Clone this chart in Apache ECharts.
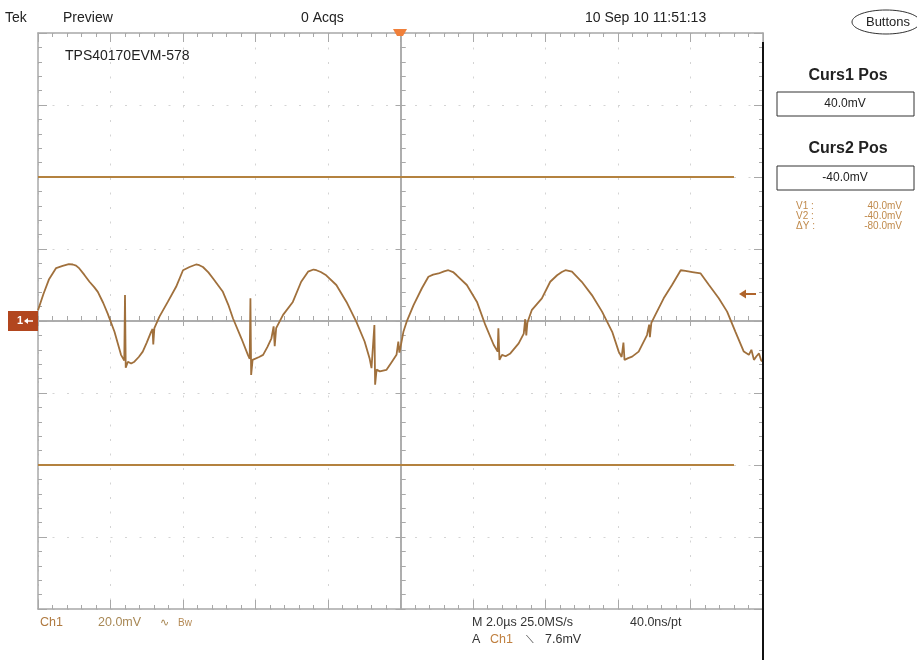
<!DOCTYPE html>
<html>
<head>
<meta charset="utf-8">
<script src="https://cdn.jsdelivr.net/npm/echarts@6/dist/echarts.min.js"></script>
<style>
html,body{margin:0;padding:0;background:#fff;}
#chart{width:917px;height:660px;}
</style>
</head>
<body>
<div id="chart"></div>
<script>
// time relative to trigger (µs), 2.0 µs/div
var timeUs = [-10.00,-9.85,-9.70,-9.50,-9.32,-9.15,-9.04,-8.95,-8.86,-8.72,-8.58,-8.45,-8.35,-8.20,-8.08,-7.89,-7.71,-7.62,-7.60,-7.58,-7.52,-7.43,-7.34,-7.22,-7.11,-7.00,-6.88,-6.84,-6.82,-6.79,-6.65,-6.42,-6.19,-6.00,-5.82,-5.64,-5.55,-5.45,-5.30,-5.17,-4.90,-4.75,-4.62,-4.39,-4.21,-4.16,-4.14,-4.12,-4.08,-4.03,-3.90,-3.79,-3.67,-3.56,-3.50,-3.47,-3.43,-3.24,-2.97,-2.74,-2.55,-2.40,-2.32,-2.20,-2.05,-1.77,-1.49,-1.22,-0.99,-0.85,-0.80,-0.72,-0.70,-0.66,-0.57,-0.48,-0.39,-0.25,-0.11,-0.06,-0.03,0.02,0.08,0.17,0.36,0.59,0.77,0.90,1.05,1.20,1.32,1.45,1.55,1.83,2.11,2.34,2.57,2.68,2.70,2.73,2.80,2.90,3.03,3.26,3.40,3.44,3.47,3.50,3.62,3.90,4.13,4.32,4.45,4.55,4.73,5.00,5.28,5.56,5.84,6.02,6.10,6.15,6.18,6.28,6.39,6.57,6.80,6.86,6.88,6.92,7.03,7.26,7.49,7.73,7.86,8.05,8.28,8.51,8.78,9.01,9.24,9.47,9.61,9.68,9.75,9.82,9.89,9.95,10.00];
// Ch1 voltage (mV), 20.0 mV/div
var ch1mV = [3.0,7.5,11.5,14.7,15.3,15.8,15.7,15.4,14.6,12.8,10.9,9.4,8.1,5.0,2.1,-3.0,-9.4,-11.0,7.2,-13.0,-11.3,-11.8,-11.3,-10.0,-8.5,-6.0,-3.0,-2.2,-6.5,-2.0,1.2,5.3,9.5,14.1,15.0,15.7,15.5,15.0,13.5,11.8,8.1,4.5,0.7,-4.8,-9.4,-10.5,6.3,-15.0,-10.8,-10.3,-10.0,-9.4,-7.2,-4.8,-1.5,-7.0,-2.0,1.7,5.3,10.9,13.7,14.3,14.1,13.6,12.7,10.0,5.3,-0.2,-5.7,-10.5,-13.1,-1.1,-17.7,-13.5,-14.0,-13.8,-13.6,-11.5,-9.4,-5.7,-8.8,-6.2,-3.0,-0.2,4.4,9.1,12.3,12.9,13.2,13.8,14.1,13.6,12.7,10.0,5.3,-1.1,-6.6,-8.5,-2.0,-10.8,-9.4,-9.8,-9.0,-6.2,-3.5,0.5,-4.0,-0.5,3.0,6.3,10.9,12.7,13.6,14.1,13.7,10.9,7.2,2.6,-3.0,-8.5,-10.0,-6.0,-10.8,-10.3,-9.9,-8.5,-3.9,-1.0,-4.5,-0.5,1.7,6.3,10.0,14.1,13.9,13.6,13.2,10.0,6.3,2.6,-3.0,-8.5,-9.4,-8.0,-10.8,-9.8,-9.0,-11.0,-11.3];
var cursorLevels = [40, -40];
var cursorEndUs = 9.2;
var xRange = [-10, 10], xDiv = 2;
var yRange = [-80, 80], yDiv = 20;

var gray = '#a8a8a8';
var traceColor = '#a0703c';
var cursorColor = '#b4823f';
var labelColor = '#c08a4c';

function axisBase(extra) {
  var a = {
    axisLabel: { show: false },
    splitLine: { show: false },
    axisLine: { show: true, lineStyle: { color: gray, width: 1.5 } },
    axisTick: { show: true, inside: true, length: 9, lineStyle: { color: gray, width: 1 } },
    minorTick: { show: true, splitNumber: 5, length: 4, lineStyle: { color: gray, width: 1 } }
  };
  for (var k in extra) a[k] = extra[k];
  return a;
}
var gridSplit = { show: true, lineStyle: { color: '#d4d4d4', width: 1, type: [2, 12.5] } };

var xAxes = [
  axisBase({ type: 'value', min: xRange[0], max: xRange[1], interval: xDiv, position: 'bottom', splitLine: gridSplit, axisLine: { show: true, onZero: false, lineStyle: { color: gray, width: 1.5 } } }),
  axisBase({ type: 'value', min: xRange[0], max: xRange[1], interval: xDiv, position: 'top', axisLine: { show: true, onZero: false, lineStyle: { color: gray, width: 1.5 } } }),
  axisBase({ type: 'value', min: xRange[0], max: xRange[1], interval: xDiv, position: 'bottom', axisLine: { show: true, onZero: true, onZeroAxisIndex: 0, lineStyle: { color: gray, width: 1.5 } }, axisTick: { show: true, inside: true, length: 5, lineStyle: { color: gray } }, minorTick: { show: true, splitNumber: 5, length: 5, lineStyle: { color: gray } } }),
  axisBase({ type: 'value', min: xRange[0], max: xRange[1], interval: xDiv, position: 'bottom', axisLine: { show: true, onZero: true, onZeroAxisIndex: 0, lineStyle: { color: gray, width: 1.5 } }, axisTick: { show: true, inside: false, length: 5, lineStyle: { color: gray } }, minorTick: { show: true, splitNumber: 5, length: -5, lineStyle: { color: gray } } })
];
var yAxes = [
  axisBase({ type: 'value', min: yRange[0], max: yRange[1], interval: yDiv, position: 'left', splitLine: gridSplit, axisLine: { show: true, onZero: false, lineStyle: { color: gray, width: 1.5 } } }),
  axisBase({ type: 'value', min: yRange[0], max: yRange[1], interval: yDiv, position: 'right', axisLine: { show: true, onZero: false, lineStyle: { color: gray, width: 1.5 } } }),
  axisBase({ type: 'value', min: yRange[0], max: yRange[1], interval: yDiv, position: 'left', axisLine: { show: true, onZero: true, onZeroAxisIndex: 0, lineStyle: { color: gray, width: 1.5 } }, axisTick: { show: true, inside: true, length: 5, lineStyle: { color: gray } }, minorTick: { show: true, splitNumber: 5, length: 5, lineStyle: { color: gray } } }),
  axisBase({ type: 'value', min: yRange[0], max: yRange[1], interval: yDiv, position: 'left', axisLine: { show: true, onZero: true, onZeroAxisIndex: 0, lineStyle: { color: gray, width: 1.5 } }, axisTick: { show: true, inside: false, length: 5, lineStyle: { color: gray } }, minorTick: { show: true, splitNumber: 5, length: -5, lineStyle: { color: gray } } })
];

var traceData = timeUs.map(function (t, i) { return [t, ch1mV[i]]; });
var cursorLines = cursorLevels.map(function (v) {
  return [{ coord: [xRange[0], v] }, { coord: [cursorEndUs, v] }];
});

var fontMain = '"Liberation Sans", Arial, sans-serif';
function txt(x, y, s, opt) {
  opt = opt || {};
  return {
    type: 'text', x: x, y: y, z: 100,
    style: {
      text: s, fill: opt.fill || '#222',
      font: (opt.weight || 'normal') + ' ' + (opt.size || 13) + 'px ' + fontMain,
      textAlign: opt.align || 'left', textVerticalAlign: 'middle'
    }
  };
}

var graphics = [
  txt(5, 18, 'Tek', { size: 14 }),
  txt(63, 18, 'Preview', { size: 14 }),
  txt(301, 18, '0 Acqs', { size: 14 }),
  txt(585, 18, '10 Sep 10 11:51:13', { size: 14 }),
  txt(65, 56, 'TPS40170EVM-578', { size: 14 }),
  { type: 'ellipse', shape: { cx: 886, cy: 22, rx: 34, ry: 12 }, style: { fill: 'none', stroke: '#333', lineWidth: 1 }, z: 100 },
  txt(888, 22, 'Buttons', { size: 13, align: 'center' }),
  txt(848, 76, 'Curs1 Pos', { size: 16, weight: 'bold', align: 'center' }),
  { type: 'rect', shape: { x: 777, y: 92, width: 137, height: 24 }, style: { fill: 'none', stroke: '#333', lineWidth: 1 }, z: 100 },
  txt(845, 104, '40.0mV', { size: 12, align: 'center' }),
  txt(848, 149, 'Curs2 Pos', { size: 16, weight: 'bold', align: 'center' }),
  { type: 'rect', shape: { x: 777, y: 166, width: 137, height: 24 }, style: { fill: 'none', stroke: '#333', lineWidth: 1 }, z: 100 },
  txt(845, 178, '-40.0mV', { size: 12, align: 'center' }),
  txt(796, 206, 'V1 :', { size: 10, fill: labelColor }),
  txt(902, 206, '40.0mV', { size: 10, fill: labelColor, align: 'right' }),
  txt(796, 216, 'V2 :', { size: 10, fill: labelColor }),
  txt(902, 216, '-40.0mV', { size: 10, fill: labelColor, align: 'right' }),
  txt(796, 226, 'ΔY :', { size: 10, fill: labelColor }),
  txt(902, 226, '-80.0mV', { size: 10, fill: labelColor, align: 'right' }),
  // right black edge
  { type: 'line', shape: { x1: 763, y1: 42, x2: 763, y2: 660 }, style: { stroke: '#111', lineWidth: 2 }, z: 100 },
  // trigger position marker
  { type: 'polygon', shape: { points: [[393, 29], [407, 29], [403, 36], [397, 36]] }, style: { fill: '#f0803a' }, z: 100 },
  // channel 1 ground marker
  { type: 'rect', shape: { x: 8, y: 311, width: 30, height: 20 }, style: { fill: '#b2461e' }, z: 100 },
  txt(17, 321, '1', { size: 11, fill: '#fff', weight: 'bold' }),
  { type: 'line', shape: { x1: 26, y1: 321, x2: 33, y2: 321 }, style: { stroke: '#fff', lineWidth: 1.5 }, z: 101 },
  { type: 'polygon', shape: { points: [[24, 321], [28, 318], [28, 324]] }, style: { fill: '#fff' }, z: 101 },
  // trigger level arrow
  { type: 'line', shape: { x1: 744, y1: 294, x2: 756, y2: 294 }, style: { stroke: '#b0652c', lineWidth: 2 }, z: 100 },
  { type: 'polygon', shape: { points: [[739, 294], [746, 289.5], [746, 298.5]] }, style: { fill: '#b0652c' }, z: 100 },
  // bottom status
  txt(40, 623, 'Ch1', { size: 12.5, fill: '#b07a40' }),
  txt(98, 623, '20.0mV', { size: 12.5, fill: '#a88855' }),
  txt(160, 623, '∿', { size: 11, fill: '#a88855' }),
  txt(178, 623, 'Bw', { size: 10, fill: '#b58a55' }),
  txt(472, 623, 'M 2.0µs 25.0MS/s', { size: 12.5, fill: '#333' }),
  txt(630, 623, '40.0ns/pt', { size: 12.5, fill: '#333' }),
  txt(472, 640, 'A', { size: 12.5, fill: '#333' }),
  txt(490, 640, 'Ch1', { size: 12.5, fill: '#c08040' }),
  txt(526, 640, '⟍', { size: 11, fill: '#333' }),
  txt(545, 640, '7.6mV', { size: 12.5, fill: '#333' })
];

var chart = echarts.init(document.getElementById('chart'), null, { renderer: 'canvas' });
chart.setOption({
  animation: false,
  backgroundColor: '#ffffff',
  grid: { left: 38, right: 154, top: 33, bottom: 51, containLabel: false },
  xAxis: xAxes,
  yAxis: yAxes,
  series: [
    {
      type: 'line', xAxisIndex: 0, yAxisIndex: 0, data: traceData,
      showSymbol: false, symbol: 'none',
      lineStyle: { color: traceColor, width: 1.8 },
      markLine: {
        silent: true, symbol: 'none', label: { show: false },
        lineStyle: { color: cursorColor, width: 2, type: 'solid' },
        data: cursorLines
      },
      z: 5
    }
  ],
  graphic: graphics
});
</script>
</body>
</html>
